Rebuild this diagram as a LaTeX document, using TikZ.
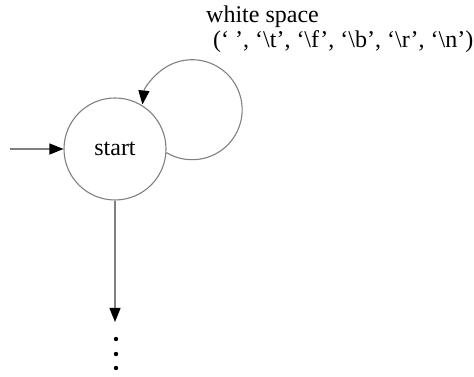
\documentclass[tikz,border=0pt]{standalone}
\usepackage{fontspec}
\setmainfont{Liberation Serif}
\usetikzlibrary{arrows.meta}
\begin{document}
\begin{tikzpicture}[x=1pt,y=1pt,
  edge/.style={draw=black!50,line width=1.1pt,-{Triangle[length=14pt,width=11pt,color=black]}},
  state/.style={circle,draw=black!50,line width=1.1pt,minimum size=102pt,inner sep=0pt,font=\fontsize{24}{28}\selectfont},
  lbl/.style={anchor=base west,inner sep=0pt,font=\fontsize{24}{28}\selectfont}]
\useasboundingbox (0,0) rectangle (474,377);
\node[state] (s) at (115,228) {start};
\coordinate (in) at (10,228);
\coordinate (down) at (115,55);
\draw[edge] (in) -- (s.west);
\draw[edge] (s.south) -- (down);
\draw[edge] (s.-4) arc[start angle=239,end angle=534,radius=50];
\node[lbl] (l1) at (206,354) {white space};
\node[lbl] (l2) at (213,329) {(‘ ’, ‘\textbackslash t’, ‘\textbackslash f’, ‘\textbackslash b’, ‘\textbackslash r’, ‘\textbackslash n’)};
\foreach \yy [count=\i] in {38,23,9} \fill (116,\yy) circle[radius=2.2pt];
\end{tikzpicture}
\end{document}
